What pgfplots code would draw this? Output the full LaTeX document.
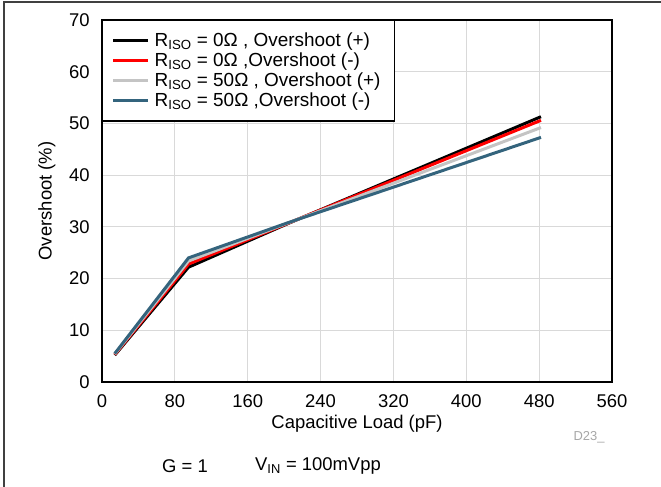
\documentclass[border=0pt]{standalone}
\usepackage{fontspec}
\setmainfont{Liberation Sans}
\usepackage{pgfplots}
\pgfplotsset{compat=1.18}
\definecolor{cblue}{RGB}{52,100,125}
\definecolor{cgray}{RGB}{196,196,196}
\definecolor{cred}{RGB}{255,0,0}
\begin{document}
\fontsize{18.5}{22}\selectfont
\begin{tikzpicture}[x=1bp,y=1bp]
\useasboundingbox (0,0) rectangle (661,487);
\draw[line width=1.2bp, black!75] (4,0) -- (4,485) -- (661,485);
\begin{axis}[
  at={(102bp,105bp)}, anchor=south west,
  width=510bp, height=362bp, scale only axis,
  xmin=0, xmax=560, ymin=0, ymax=70,
  xtick={0,80,...,560}, ytick={0,10,...,70},
  major tick length=0,
  grid=major,
  major grid style={line width=1.2bp, black!15},
  axis line style={line width=2.8bp, black},
  /pgf/number format/assume math mode=true,
  ticklabel style={font=\fontsize{18.5}{22}\selectfont},
  xticklabel style={yshift=-6bp},
  yticklabel style={xshift=-6bp},
  xlabel={Capacitive Load (pF)},
  ylabel={Overshoot (\%)},
  every axis x label/.style={at={(axis description cs:0.5,-0.116)}, anchor=center},
  every axis y label/.style={at={(axis description cs:-0.108,0.5)}, rotate=90, anchor=center},
  legend style={at={(0,1)}, anchor=north west, draw=black, line width=1.3bp,
    font=\fontsize{19}{20}\selectfont, inner xsep=9bp, inner ysep=10bp, row sep=-0.5bp,
    legend cell align=left, nodes={inner xsep=5bp}},
  legend image code/.code={\draw[#1, line width=3bp] (0bp,0bp) -- (35bp,0bp);},
]
\addplot[black, line width=3bp] coordinates {(14,5.2) (95,22.2) (205,30.7) (482,51.3)};
\addlegendentry{R\textsubscript{ISO} = 0Ω , Overshoot (+)}
\addplot[cred, line width=3bp] coordinates {(14,5.3) (95,22.8) (205,30.75) (482,50.6)};
\addlegendentry{R\textsubscript{ISO} = 0Ω ,Overshoot (-)}
\addplot[cgray, line width=3bp] coordinates {(14,5.4) (95,23.4) (205,30.8) (482,49.2)};
\addlegendentry{R\textsubscript{ISO} = 50Ω , Overshoot (+)}
\addplot[cblue, line width=3bp] coordinates {(14,5.5) (95,24.0) (205,30.85) (482,47.3)};
\addlegendentry{R\textsubscript{ISO} = 50Ω ,Overshoot (-)}
\end{axis}
\node[text=black!35, font=\fontsize{13}{15}\selectfont] at (589,50) {D23\_};
\node at (185,21) {G = 1};
\node[anchor=west, inner sep=0pt] at (255,21) {V\textsubscript{IN} = 100mVpp};
\end{tikzpicture}
\end{document}
